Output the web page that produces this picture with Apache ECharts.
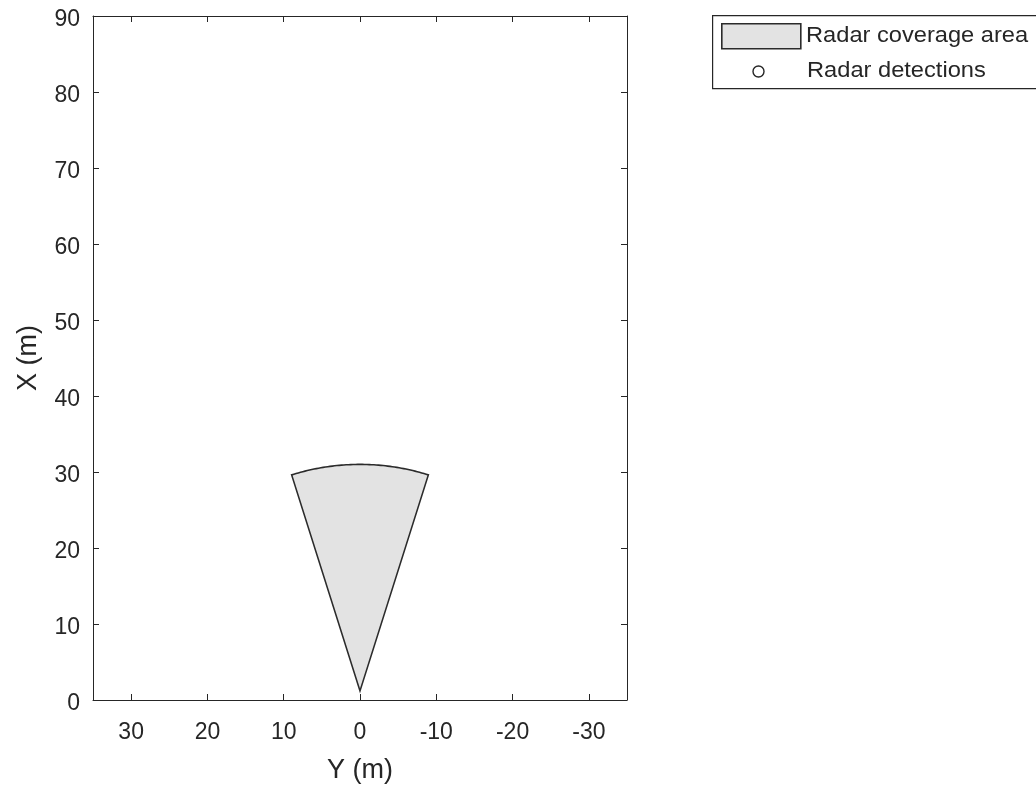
<!DOCTYPE html>
<html>
<head>
<meta charset="utf-8">
<script src="https://cdn.jsdelivr.net/npm/echarts@6/dist/echarts.min.js"></script>
<style>
html,body{margin:0;padding:0;background:#fff;}
#chart{width:1036px;height:789px;}
</style>
</head>
<body>
<div id="chart"></div>
<script>
// ---- data ----
const xTickValues = [0, 10, 20, 30, 40, 50, 60, 70, 80, 90];      // X (m), vertical axis
const yTickValues = [30, 20, 10, 0, -10, -20, -30];               // Y (m), horizontal axis
const radarPosition = [1.2, 0];   // [X, Y] in metres
const radarRange = [29.8];        // metres
const radarFieldOfView = [35];    // degrees
const radarDetections = [];       // no detections in this frame
const seriesNames = ['Radar coverage area', 'Radar detections'];

const FONT = '"Liberation Sans", Arial, Helvetica, sans-serif';
const INK = '#262626';

const chart = echarts.init(document.getElementById('chart'), null, {renderer: 'canvas'});

const coverageData = [[radarPosition[0], radarPosition[1], radarRange[0], radarFieldOfView[0]]];

const option = {
  animation: false,
  backgroundColor: '#fff',
  grid: {left: 93, right: 409, top: 16, bottom: 89, containLabel: false},
  xAxis: [{
    type: 'value', min: -35, max: 35, inverse: true,
    name: 'Y (m)', nameLocation: 'middle', nameGap: 57,
    nameTextStyle: {fontFamily: FONT, fontSize: 27, color: INK},
    axisLine: {show: true, onZero: false, lineStyle: {color: INK, width: 1}},
    axisTick: {show: true, inside: true, length: 6, customValues: yTickValues, lineStyle: {color: INK}},
    axisLabel: {show: true, customValues: yTickValues, margin: 21, fontFamily: FONT, fontSize: 23, color: INK},
    splitLine: {show: false}
  }, {
    type: 'value', position: 'top', min: -35, max: 35, inverse: true,
    axisLine: {show: true, onZero: false, lineStyle: {color: INK, width: 1}},
    axisTick: {show: true, inside: true, length: 6, customValues: yTickValues, lineStyle: {color: INK}},
    axisLabel: {show: false},
    splitLine: {show: false}
  }],
  yAxis: [{
    type: 'value', min: 0, max: 90, interval: 10,
    name: 'X (m)', nameLocation: 'middle', nameGap: 51,
    nameTextStyle: {fontFamily: FONT, fontSize: 27, color: INK},
    axisLine: {show: true, onZero: false, lineStyle: {color: INK, width: 1}},
    axisTick: {show: true, inside: true, length: 6, lineStyle: {color: INK}},
    axisLabel: {show: true, margin: 13, fontFamily: FONT, fontSize: 23, color: INK,
      verticalAlign: 'top', lineHeight: 8,
      formatter: v => xTickValues.includes(v) ? String(v) : ''},
    splitLine: {show: false}
  }, {
    type: 'value', position: 'right', min: 0, max: 90, interval: 10,
    axisLine: {show: true, onZero: false, lineStyle: {color: INK, width: 1}},
    axisTick: {show: true, inside: true, length: 6, lineStyle: {color: INK}},
    axisLabel: {show: false},
    splitLine: {show: false}
  }],
  series: [{
    name: seriesNames[0],
    type: 'custom',
    xAxisIndex: 0, yAxisIndex: 0,
    data: coverageData,
    renderItem: function (params, api) {
      const px = api.value(0), py = api.value(1), r = api.value(2), fov = api.value(3);
      const pts = [api.coord([py, px])];
      const steps = 60;
      for (let i = 0; i <= steps; i++) {
        const t = (-fov / 2 + fov * i / steps) * Math.PI / 180;
        pts.push(api.coord([py + r * Math.sin(t), px + r * Math.cos(t)]));
      }
      return {
        type: 'polygon',
        shape: {points: pts},
        style: {fill: '#e3e3e3', stroke: '#2b2b2b', lineWidth: 1.6, lineJoin: 'miter'}
      };
    }
  }, {
    name: seriesNames[1],
    type: 'scatter',
    data: radarDetections,
    symbol: 'emptyCircle', symbolSize: 10,
    itemStyle: {color: INK}
  }],
  graphic: [
    {type: 'rect', left: 712, top: 15, shape: {x: 0, y: 0, width: 340, height: 73},
      style: {fill: '#fff', stroke: INK, lineWidth: 1.2}, z: 100},
    {type: 'rect', left: 721, top: 23, shape: {x: 0, y: 0, width: 79, height: 25},
      style: {fill: '#e3e3e3', stroke: '#2b2b2b', lineWidth: 1.6}, z: 101},
    {type: 'text', x: 806, y: 36, scaleX: 1.075, z: 101,
      style: {text: seriesNames[0], font: '22px ' + FONT, fill: INK, textVerticalAlign: 'middle', verticalAlign: 'middle'}},
    {type: 'circle', shape: {cx: 758.5, cy: 71.5, r: 5.5}, z: 101,
      style: {fill: 'none', stroke: INK, lineWidth: 1.4}},
    {type: 'text', x: 807, y: 71, scaleX: 1.075, z: 101,
      style: {text: seriesNames[1], font: '22px ' + FONT, fill: INK, textVerticalAlign: 'middle', verticalAlign: 'middle'}}
  ]
};
chart.setOption(option);
</script>
</body>
</html>
